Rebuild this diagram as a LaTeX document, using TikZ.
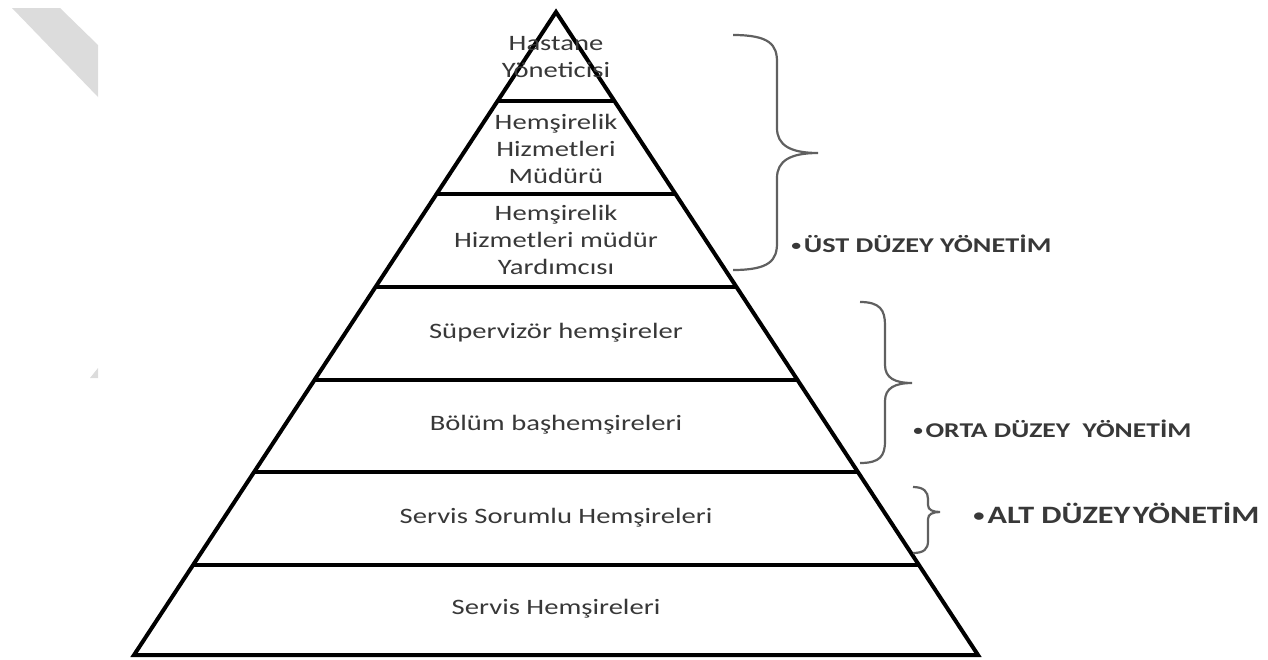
\documentclass[tikz,border=0pt]{standalone}
\usepackage{fontspec}
\usepackage{graphicx}
\setmainfont{Carlito}[FakeStretch=1.3]
\usetikzlibrary{calc}
\definecolor{txt}{HTML}{383838}
\definecolor{brc}{HTML}{606060}
\definecolor{stripe}{HTML}{DCDCDC}
\newcommand\smallbul{\raisebox{0.15ex}{\scalebox{0.7}{•}}\hspace{0.12em}}
% label text forced to a given width, natural height kept
\newcommand\lbltext[2]{\resizebox{#1}{\height}{\bfseries #2}}
\tikzset{
  tier/.style={align=center, text=txt, font=\fontsize{11}{13.5}\selectfont, inner sep=0pt},
  lvl/.style={anchor=base west, text=txt, font=\fontsize{10.5}{12}\selectfont\bfseries, inner sep=0pt},
  lvlbig/.style={lvl, font=\fontsize{12.5}{14}\selectfont\bfseries},
  edge/.style={line width=2pt, line join=miter},
  sep/.style={line width=2pt},
  brace/.style={draw=brc, line width=1.1pt}
}
\begin{document}
\begin{tikzpicture}[x=0.5pt,y=-0.5pt]
\useasboundingbox (0,0) rectangle (1268,659);
% faint stripe
\fill[stripe] (12,8) -- (60,8) -- (98,45) -- (98,97) -- cycle;
\fill[stripe] (90,378) -- (98,378) -- (98,368) -- cycle;
% pyramid
\coordinate (apex) at (556,12);
\coordinate (bl) at (134,655);
\coordinate (br) at (978,655);
\draw[edge] (bl) -- (apex) -- (br) -- cycle;
\foreach \y in {101,194,287,380,472,565}{
  \draw[sep] ($(apex)!{(\y-12)/643}!(bl)$) -- ($(apex)!{(\y-12)/643}!(br)$);
}
% tier texts
\node[tier] (t1) at (556,57) {Hastane\\Yöneticisi};
\node[tier] (t2) at (556,149) {Hemşirelik\\Hizmetleri\\Müdürü};
\node[tier] (t3) at (556,240) {Hemşirelik\\Hizmetleri müdür\\Yardımcısı};
\node[tier] (t4) at (556,333) {Süpervizör hemşireler};
\node[tier] (t5) at (556,425) {Bölüm başhemşireleri};
\node[tier] (t6) at (556,518) {Servis Sorumlu Hemşireleri};
\node[tier] (t7) at (556,609) {Servis Hemşireleri};
% braces
\draw[brace] (733,35) .. controls (770,35) and (777,45) .. (777,62) -- (777,128)
  .. controls (777,145) and (790,153) .. (818,153)
  .. controls (790,153) and (777,161) .. (777,178) -- (777,243)
  .. controls (777,260) and (770,270) .. (733,270);
\draw[brace] (860,302) .. controls (880,302) and (885,310) .. (885,325) -- (885,365)
  .. controls (885,378) and (895,383) .. (912,383)
  .. controls (895,383) and (885,388) .. (885,401) -- (885,441)
  .. controls (885,456) and (880,463) .. (860,463);
\draw[brace] (913,487) .. controls (924,487) and (928,492) .. (928,499) -- (928,505)
  .. controls (928,510) and (933,512) .. (940,512)
  .. controls (933,512) and (928,514) .. (928,519) -- (928,541)
  .. controls (928,549) and (924,553) .. (913,553);
% level labels
\node[lvl] (l1) at (791,252) {\lbltext{130pt}{\smallbul ÜST DÜZEY YÖNETİM}};
\node[lvl] (l2) at (913,437) {\lbltext{139pt}{\smallbul ORTA DÜZEY\ \ YÖNETİM}};
\node[lvlbig] (l3) at (973,523) {\lbltext{143pt}{\smallbul ALT DÜZEY\hspace{0.1em}YÖNETİM}};
\end{tikzpicture}
\end{document}
